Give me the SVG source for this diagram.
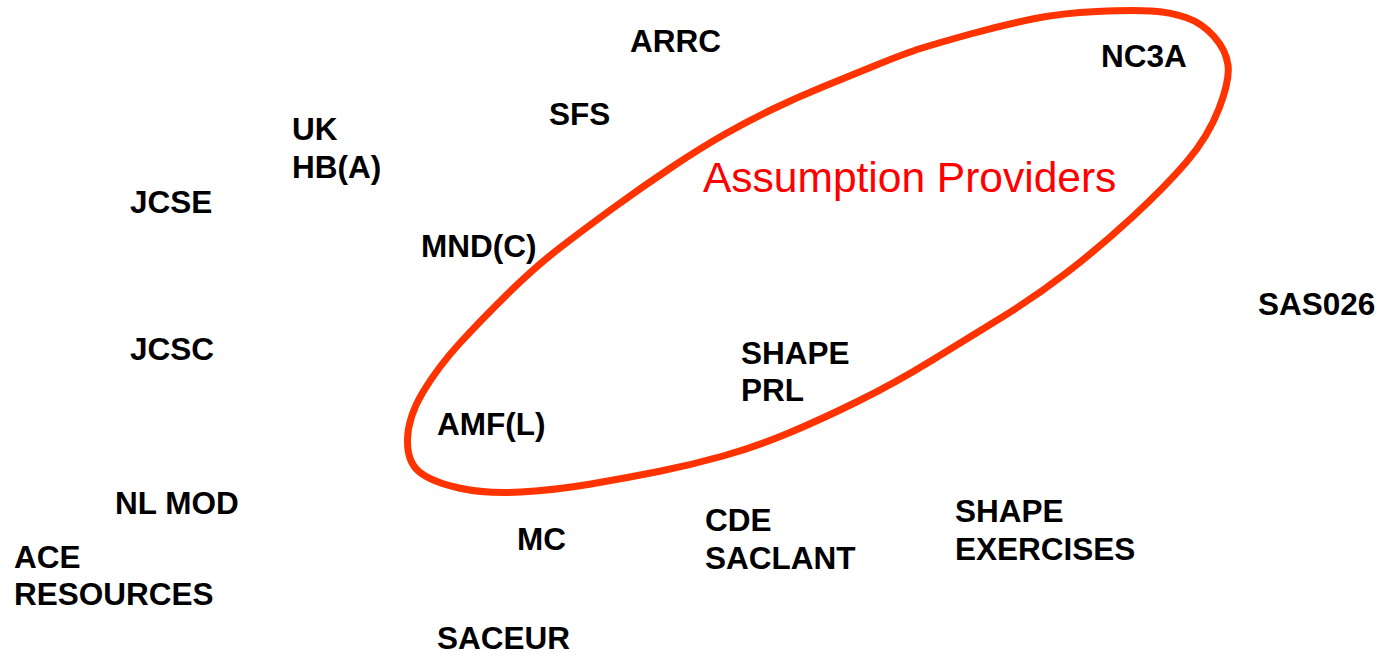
<svg xmlns="http://www.w3.org/2000/svg" width="1380" height="656" viewBox="0 0 1380 656">
<style>
.lbl{font-family:"Liberation Sans",Arial,sans-serif;font-weight:bold;font-size:31.5px;fill:#000}
.title{font-family:"Liberation Sans",Arial,sans-serif;font-size:42.5px;fill:#ff0000}
.loop{fill:none;stroke:#ff3300;stroke-width:7;stroke-linejoin:round;stroke-linecap:round}
</style>
<rect width="1380" height="656" fill="#fff"/>
<g id="connectors">
<path id="assumption-loop" class="loop" d="M1214,36.5 Q1202,23 1186,17.5 Q1170,12 1151,11 Q1132,10 1097,11.5 Q1062,13 1032.5,19 Q1003,25 970.5,34 Q938,43 922,48 Q906,53 876.5,65 Q847,77 822.5,87 Q798,97 774,108.5 Q750,120 726,133.5 Q702,147 672,167 Q642,187 612.5,208.5 Q583,230 559,248.5 Q535,267 508,293.5 Q481,320 459.5,343.5 Q438,367 423,392 Q408,417 407.5,439.5 Q407,462 419.5,472 Q432,482 459,488 Q486,494 521,492 Q556,490 591,484 Q626,478 658.5,471.5 Q691,465 723,456 Q755,447 787.5,433.5 Q820,420 857.5,401.5 Q895,383 930,361.5 Q965,340 1000,318.5 Q1035,297 1067.5,272 Q1100,247 1132.5,217 Q1165,187 1186.5,162 Q1208,137 1219,108.5 Q1230,80 1228,65 Q1226,50 1214,36.5 Z"/>
</g>
<g id="n-arrc"><text class="lbl" x="630" y="52">ARRC</text></g>
<g id="n-nc3a"><text class="lbl" x="1101" y="67">NC3A</text></g>
<g id="n-sfs"><text class="lbl" x="549" y="125">SFS</text></g>
<g id="n-ukhba"><text class="lbl" x="292" y="140">UK</text><text class="lbl" x="292" y="178">HB(A)</text></g>
<g id="n-jcse"><text class="lbl" x="130" y="213">JCSE</text></g>
<g id="n-mndc"><text class="lbl" x="421" y="257">MND(C)</text></g>
<g id="n-title"><text class="title" x="703" y="192">Assumption Providers</text></g>
<g id="n-sas026"><text class="lbl" x="1258" y="315">SAS026</text></g>
<g id="n-jcsc"><text class="lbl" x="130" y="360">JCSC</text></g>
<g id="n-shapeprl"><text class="lbl" x="741" y="364">SHAPE</text><text class="lbl" x="741" y="401">PRL</text></g>
<g id="n-amfl"><text class="lbl" x="437" y="435">AMF(L)</text></g>
<g id="n-nlmod"><text class="lbl" x="115" y="514">NL MOD</text></g>
<g id="n-shapeex"><text class="lbl" x="955" y="522">SHAPE</text><text class="lbl" x="955" y="560">EXERCISES</text></g>
<g id="n-cde"><text class="lbl" x="705" y="531">CDE</text><text class="lbl" x="705" y="569">SACLANT</text></g>
<g id="n-mc"><text class="lbl" x="517" y="550">MC</text></g>
<g id="n-ace"><text class="lbl" x="14" y="568">ACE</text><text class="lbl" x="14" y="605">RESOURCES</text></g>
<g id="n-saceur"><text class="lbl" x="437" y="649">SACEUR</text></g>
</svg>
